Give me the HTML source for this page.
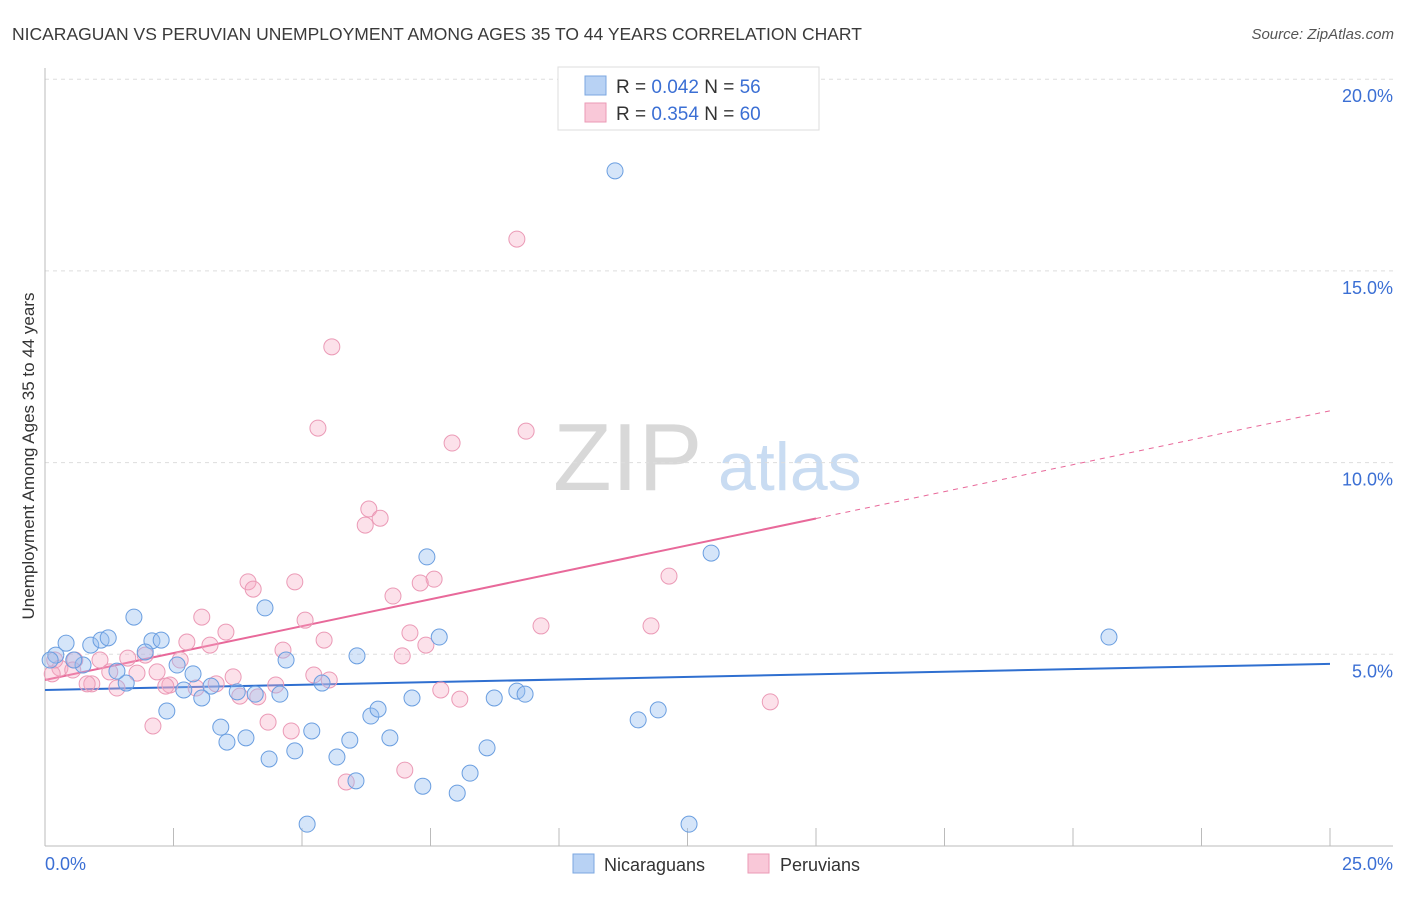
<!DOCTYPE html>
<html><head><meta charset="utf-8"><style>
body{margin:0;background:#fff;font-family:"Liberation Sans",sans-serif;}
svg text{font-family:"Liberation Sans",sans-serif;}
</style></head><body>
<svg id="chart" width="1406" height="892" viewBox="0 0 1406 892" xmlns="http://www.w3.org/2000/svg">
<text x="12" y="40" font-size="17.5" fill="#3a3a3a">NICARAGUAN VS PERUVIAN UNEMPLOYMENT AMONG AGES 35 TO 44 YEARS CORRELATION CHART</text>
<text x="1394" y="39" font-size="15" fill="#555" font-style="italic" text-anchor="end">Source: ZipAtlas.com</text>
<g>
<text x="553" y="490" font-size="96" fill="#d8d8d8" font-family="Liberation Serif, serif">ZIP</text>
<text x="718" y="490" font-size="68" fill="#c9dcf2">atlas</text>
</g>
<text transform="translate(34,456) rotate(-90)" font-size="17" fill="#333" text-anchor="middle">Unemployment Among Ages 35 to 44 years</text>
<g id="grid"></g><g id="axes"></g><g id="lines"></g><g id="pts"></g>
<g>
<rect x="558" y="67" width="261" height="63" fill="#fff" stroke="#ddd"/>
<rect x="585" y="76" width="21" height="19" fill="#b8d2f4" stroke="#7ba7e0"/>
<rect x="585" y="103" width="21" height="19" fill="#f9c8d8" stroke="#eb9ab6"/>
<text x="616" y="93" font-size="19" fill="#333">R = <tspan fill="#3b6fd4">0.042</tspan>   N = <tspan fill="#3b6fd4">56</tspan></text>
<text x="616" y="120" font-size="19" fill="#333">R = <tspan fill="#3b6fd4">0.354</tspan>   N = <tspan fill="#3b6fd4">60</tspan></text>
</g>
<g>
<rect x="573" y="854" width="21" height="19" fill="#b8d2f4" stroke="#7ba7e0"/>
<text x="604" y="871" font-size="18" fill="#333">Nicaraguans</text>
<rect x="748" y="854" width="21" height="19" fill="#f9c8d8" stroke="#eb9ab6"/>
<text x="780" y="871" font-size="18" fill="#333">Peruvians</text>
</g>
</svg>
<script>
const blueX=[11.09,12.96,20.70,7.43,4.28,1.73,0.41,0.89,1.09,1.23,2.08,2.26,1.95,2.57,2.88,4.69,6.07,7.67,5.39,3.74,4.09,4.57,3.23,2.70,3.05,1.58,1.40,0.74,0.21,0.10,0.56,2.37,3.42,3.54,3.91,5.19,5.93,6.34,6.48,6.71,7.14,8.74,9.18,9.34,11.54,11.93,8.60,4.86,4.36,5.68,6.05,8.27,7.35,8.02,5.10,12.53];
const blueY=[17.61,7.64,5.45,7.54,6.21,5.97,5.29,5.24,5.37,5.43,5.35,5.37,5.06,4.72,4.49,4.85,4.96,5.45,4.25,4.02,3.96,3.96,4.17,4.07,3.86,4.25,4.56,4.72,4.98,4.85,4.85,3.52,3.10,2.71,2.82,3.00,2.76,3.39,3.57,2.82,3.86,3.86,4.04,3.96,3.29,3.55,2.56,2.48,2.27,2.32,1.70,1.90,1.56,1.38,0.57,0.57];
const pinkX=[9.18,5.58,5.31,7.92,9.36,6.30,6.52,6.23,3.95,4.05,4.86,7.57,7.30,6.77,12.14,5.06,3.05,3.52,3.21,5.43,7.10,9.65,11.79,7.41,4.63,6.95,2.76,2.63,1.95,1.61,1.07,0.58,0.29,0.14,1.26,1.79,2.18,2.43,2.35,2.94,3.33,3.66,4.49,5.23,5.53,4.14,3.79,7.70,8.07,0.91,1.40,2.10,4.34,4.79,7.00,5.86,14.11,0.82,0.54,0.19];
const pinkY=[15.83,13.02,10.90,10.51,10.82,8.79,8.55,8.37,6.89,6.70,6.89,6.96,6.86,6.52,7.04,5.89,5.97,5.58,5.24,5.37,5.56,5.74,5.74,5.24,5.11,4.96,5.32,4.85,4.98,4.90,4.85,4.85,4.64,4.49,4.54,4.51,4.54,4.20,4.17,4.12,4.23,4.41,4.20,4.46,4.33,3.89,3.91,4.07,3.83,4.23,4.12,3.13,3.23,3.00,1.98,1.67,3.76,4.23,4.59,4.85];
const yTicks=[5,10,15,20];
const yTickLabels=["5.0%","10.0%","15.0%","20.0%"];
const xTickVals=[0,2.5,5,7.5,10,12.5,15,17.5,20,22.5,25];
const blueTrend=[4.07,4.75];
const pinkTrend=[4.33,11.35];
const pinkSolidEnd=15;
const NS="http://www.w3.org/2000/svg";
const X=v=>45+v*51.4, Y=v=>846-v*38.34;
function mk(parent,tag,attrs){const e=document.createElementNS(NS,tag);for(const k in attrs)e.setAttribute(k,attrs[k]);document.getElementById(parent).appendChild(e);return e;}
yTicks.forEach((t,i)=>{
 const g=mk('grid','line',{x1:45,x2:1393,y1:Y(t),y2:Y(t),stroke:'#ddd','stroke-dasharray':'4,4'});
 
 
 const l=mk('axes','text',{x:1393,y:Y(t)+23,'font-size':18,fill:'#3b6fd4','text-anchor':'end'});
 l.textContent=yTickLabels[i];
 
 
});
const ya=mk('axes','line',{x1:45,x2:45,y1:68,y2:846,stroke:'#bbb'});


const xa=mk('axes','line',{x1:45,x2:1393,y1:846,y2:846,stroke:'#bbb'});


xTickVals.forEach(t=>{
 const k=mk('axes','line',{x1:X(t),x2:X(t),y1:828,y2:846,stroke:'#bbb'});
 
 
});
const x0=mk('axes','text',{x:45,y:870,'font-size':18,fill:'#3b6fd4'});x0.textContent='0.0%';


const x1=mk('axes','text',{x:1393,y:870,'font-size':18,fill:'#3b6fd4','text-anchor':'end'});x1.textContent='25.0%';


for(let i=0;i<pinkX.length;i++){
 const c=mk('pts','circle',{cx:X(pinkX[i]),cy:Y(pinkY[i]),r:8,fill:'rgba(246,170,196,0.35)',stroke:'#eb9ab6','stroke-width':1});
 
 
}
for(let i=0;i<blueX.length;i++){
 const c=mk('pts','circle',{cx:X(blueX[i]),cy:Y(blueY[i]),r:8,fill:'rgba(150,190,240,0.4)',stroke:'#6a9ee0','stroke-width':1});
 
 
}
const bl=mk('lines','line',{x1:X(0),y1:Y(blueTrend[0]),x2:X(25),y2:Y(blueTrend[1]),stroke:'#2f6fd0','stroke-width':2});


const pm=pinkTrend[0]+(pinkTrend[1]-pinkTrend[0])*pinkSolidEnd/25;
const pl=mk('lines','line',{x1:X(0),y1:Y(pinkTrend[0]),x2:X(pinkSolidEnd),y2:Y(pm),stroke:'#e8699a','stroke-width':2});


const pd=mk('lines','line',{x1:X(pinkSolidEnd),y1:Y(pm),x2:X(25),y2:Y(pinkTrend[1]),stroke:'#e8699a','stroke-width':1,'stroke-dasharray':'5,5'});


</script>
</body></html>
